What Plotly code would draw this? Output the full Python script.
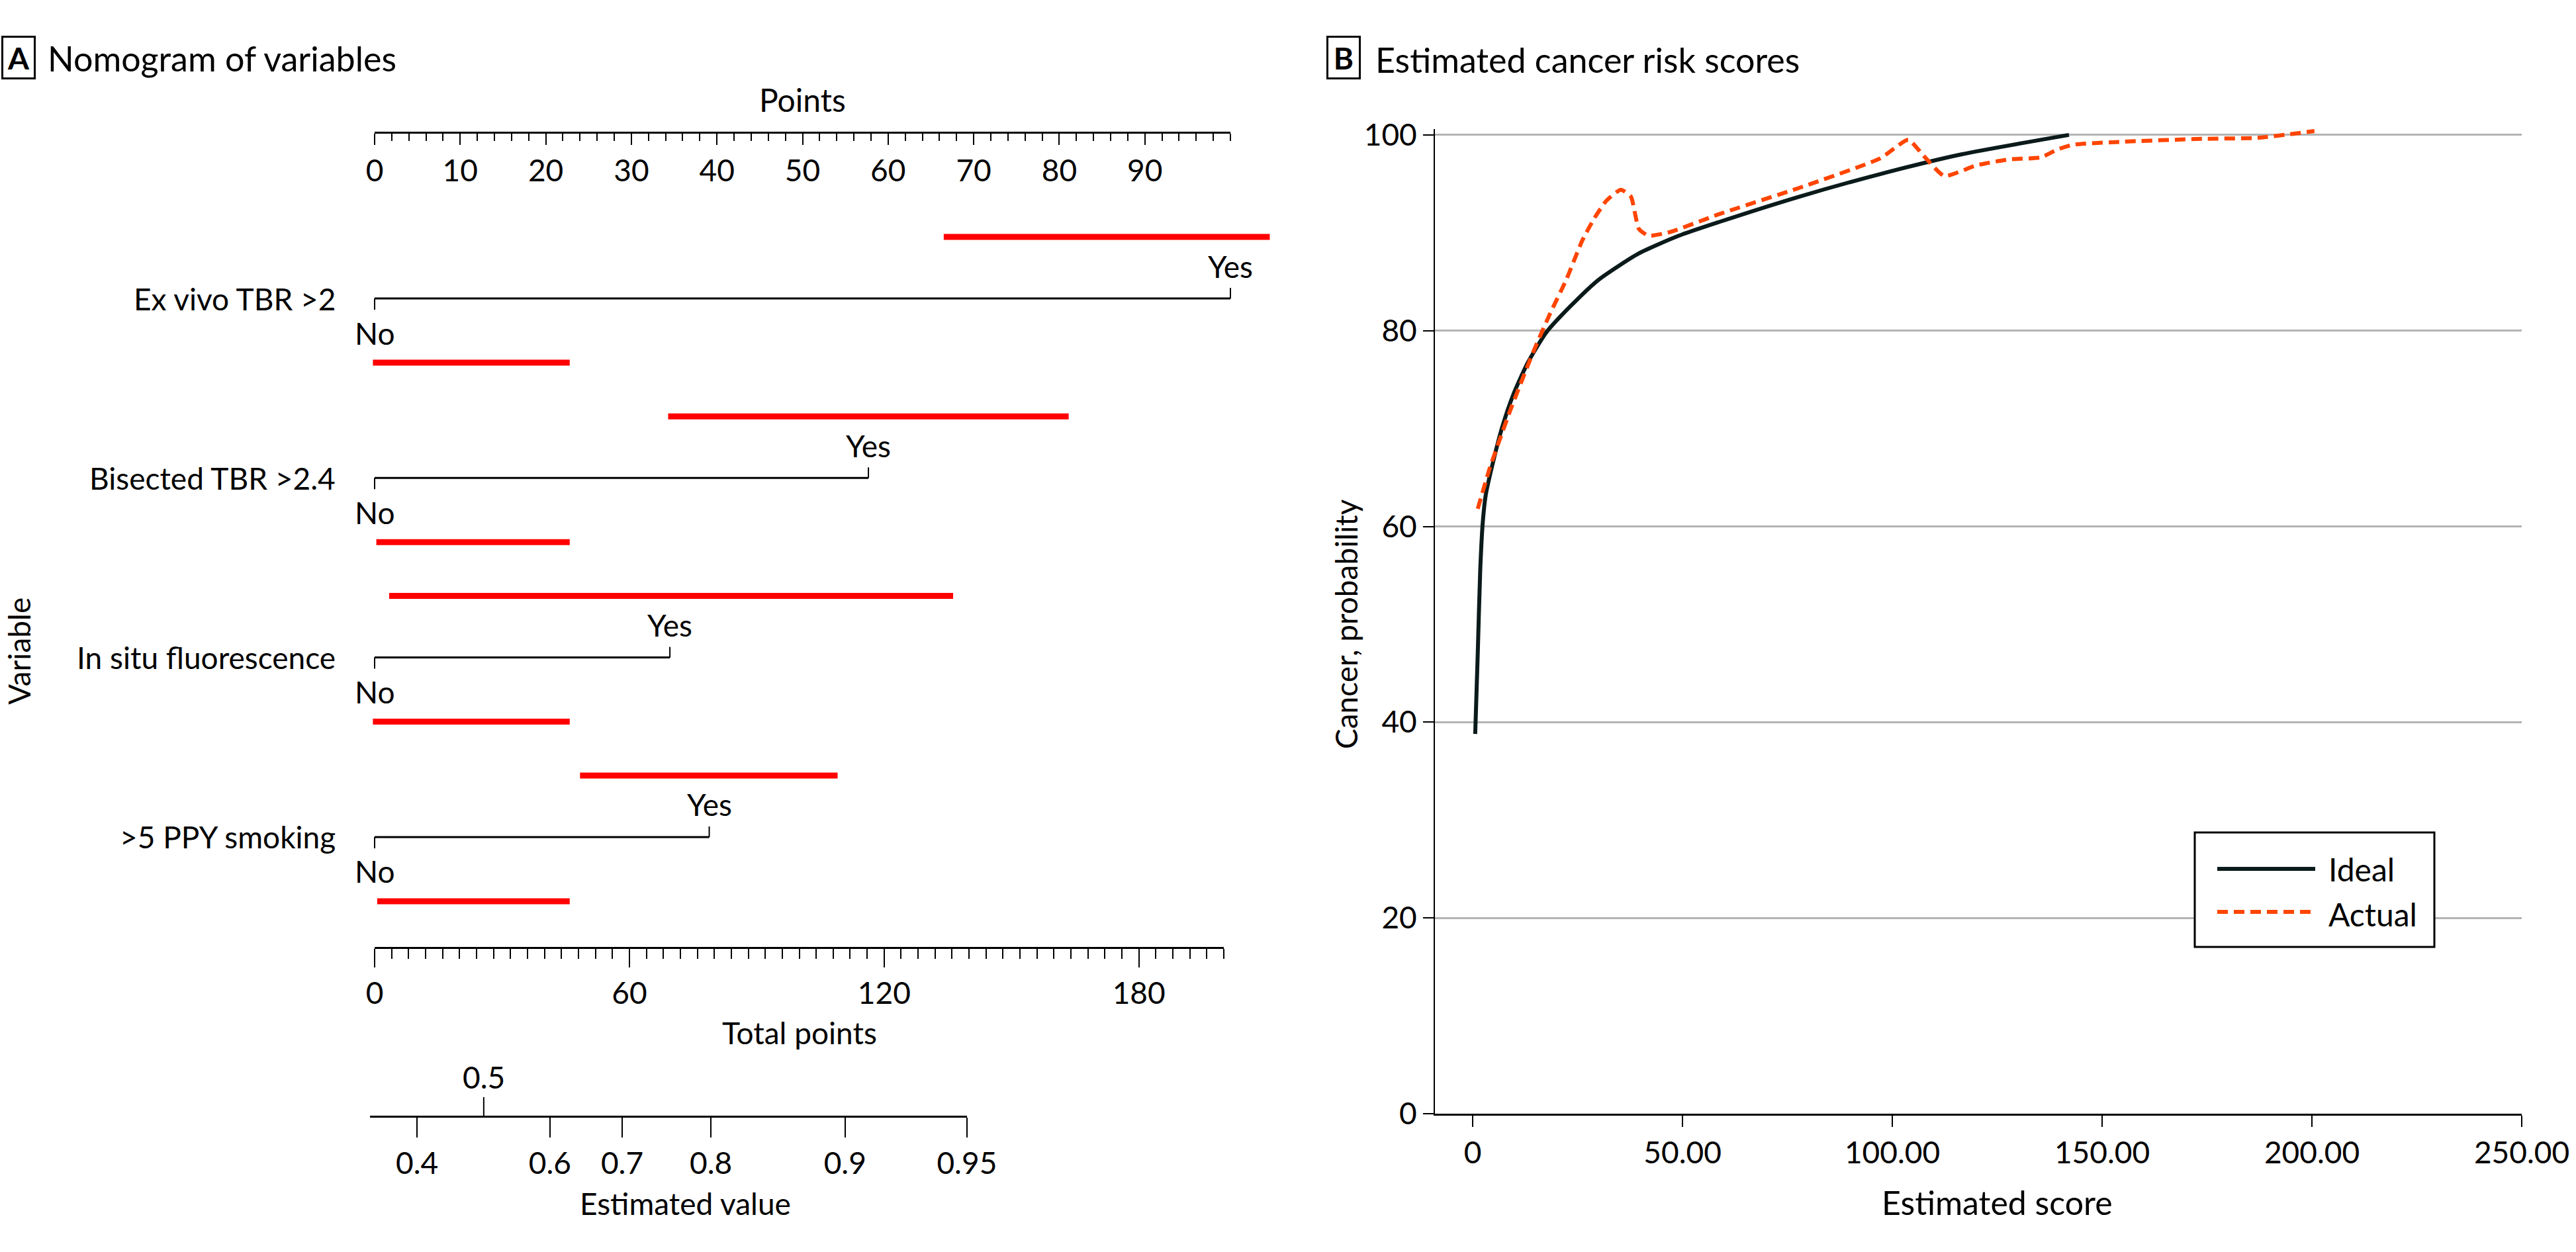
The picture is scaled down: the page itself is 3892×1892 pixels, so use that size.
import plotly.graph_objects as go

# ---------------- DATA ----------------
variables = ["Ex vivo TBR >2", "Bisected TBR >2.4", "In situ fluorescence", ">5 PPY smoking"]
yes_points = [100, 57.7, 34.5, 39.1]
yes_bar_lo = [66.5, 34.3, 1.7, 24.0]
yes_bar_hi = [104.6, 81.1, 67.6, 54.1]
no_bar_lo = [-0.2, 0.2, -0.2, 0.3]
no_bar_hi = [22.8, 22.8, 22.8, 22.8]

points_ticks = [0, 10, 20, 30, 40, 50, 60, 70, 80, 90, 100]
points_tick_labels = ["0", "10", "20", "30", "40", "50", "60", "70", "80", "90", ""]
total_ticks = [0, 20, 40, 60, 80, 100, 120, 140, 160, 180, 200]
total_tick_labels = ["0", "", "", "60", "", "", "120", "", "", "180", ""]
est_labels = ["0.4", "0.5", "0.6", "0.7", "0.8", "0.9", "0.95"]
est_positions = [10.0, 25.7, 41.3, 58.3, 79.2, 110.8, 139.5]   # in total points
est_axis_start = -1.1

ideal_x = [0.6, 1.2, 1.8, 2.4, 3.1, 4.7, 7.0, 9.8, 13.1, 17.5, 23.3, 30.0, 39.6, 49.1,
           58.7, 77.9, 97.1, 116.3, 142.1]
ideal_y = [38.8, 47.0, 55.6, 60.4, 63.2, 66.3, 70.1, 73.6, 76.7, 79.8, 82.5, 85.2, 87.9, 89.7,
           91.1, 93.7, 96.0, 98.0, 100.0]
actual_x = [1.2, 4.1, 8.9, 14.6, 18.5, 22.3, 26.1, 29.0, 31.9, 35.3, 37.7, 39.6, 41.9, 47.2,
            58.7, 77.9, 97.1, 103.8, 107.6, 112.4, 120.1, 127.8, 135.4, 139.3, 143.1, 154.6,
            173.8, 187.2, 200.6]
actual_y = [61.8, 66.0, 71.8, 78.0, 81.8, 85.2, 89.2, 91.5, 93.3, 94.4, 93.7, 90.4, 89.7, 90.1,
            91.9, 94.6, 97.6, 99.5, 97.8, 95.8, 96.9, 97.5, 97.7, 98.5, 99.0, 99.3,
            99.6, 99.7, 100.4]
b_x_ticks = [0, 50, 100, 150, 200, 250]
b_x_labels = ["0", "50.00", "100.00", "150.00", "200.00", "250.00"]
b_y_ticks = [0, 20, 40, 60, 80, 100]

# ---------------- LAYOUT CONSTANTS ----------------
W, H = 3892, 1892
FONT = "Lato"
IDEAL_C = "#0b1a1a"
ACTUAL_C = "#ff4500"
RED = "#ff0000"
CLEAR = "rgba(0,0,0,0)"


def px(x):
    return x / W


def py(y):
    return 1 - y / H


A_X0, A_X100 = 566, 1859
PT_PER_PX = 100 / (A_X100 - A_X0)
ROW0_Y, ROW_STEP = 451, 271.3
TOT_X0, TOT_X200 = 566, 1849
TOT_PX = (TOT_X200 - TOT_X0) / 200
YES_TICK, NO_TICK = 16 / ROW_STEP, 17 / ROW_STEP
TOP_BAR, BOT_BAR = -93 / ROW_STEP, 97 / ROW_STEP
YES_LAB, NO_LAB = -49 / ROW_STEP, 52 / ROW_STEP

fig = go.Figure()

# rows: black lines
hx, hy, vx, vy = [], [], [], []
for i, yes in enumerate(yes_points):
    hx += [0, yes, None]
    hy += [i, i, None]
    vx += [0, 0, None, yes, yes, None]
    vy += [i, i + NO_TICK, None, i, i - YES_TICK, None]
fig.add_trace(go.Scatter(x=hx, y=hy, mode="lines", line=dict(color="black", width=3),
                         xaxis="x", yaxis="y", hoverinfo="skip", showlegend=False))
fig.add_trace(go.Scatter(x=vx, y=vy, mode="lines", line=dict(color="black", width=2),
                         xaxis="x", yaxis="y", hoverinfo="skip", showlegend=False))

# red bars
rx, ry = [], []
for i in range(len(variables)):
    rx += [yes_bar_lo[i], yes_bar_hi[i], None, no_bar_lo[i], no_bar_hi[i], None]
    ry += [i + TOP_BAR, i + TOP_BAR, None, i + BOT_BAR, i + BOT_BAR, None]
fig.add_trace(go.Scatter(x=rx, y=ry, mode="lines", line=dict(color=RED, width=9),
                         xaxis="x", yaxis="y", hoverinfo="skip", showlegend=False))

# dummy traces so the free axes render
for ax, xv in [("x2", [0, 100]), ("x3", [0, 200]), ("x4", [est_axis_start, est_positions[-1]])]:
    fig.add_trace(go.Scatter(x=xv, y=[0, 0], xaxis=ax, yaxis="y", mode="markers",
                             marker=dict(opacity=0), hoverinfo="skip", showlegend=False))

# Panel B
fig.add_trace(go.Scatter(x=ideal_x, y=ideal_y, name="Ideal", mode="lines",
                         line=dict(color=IDEAL_C, width=6, shape="spline", smoothing=0.6),
                         xaxis="x5", yaxis="y5", showlegend=False))
fig.add_trace(go.Scatter(x=actual_x, y=actual_y, name="Actual", mode="lines",
                         line=dict(color=ACTUAL_C, width=6, dash="16px,9px", shape="spline",
                                   smoothing=0.5),
                         xaxis="x5", yaxis="y5", showlegend=False))

tickfont = dict(family=FONT, size=46, color="black")

annotations = []


def ann(text, x, y, xref="paper", yref="paper", xanchor="center", yanchor="middle", size=46,
        **kw):
    d = dict(text=text, x=x, y=y, xref=xref, yref=yref, xanchor=xanchor, yanchor=yanchor,
             showarrow=False, font=dict(family=FONT, size=size, color="black"))
    d.update(kw)
    annotations.append(d)


# titles
ann("<b>A</b>", px(28), py(87), size=46, width=46, height=60, bordercolor="black",
    borderwidth=3, borderpad=0)
ann("Nomogram of variables", px(70), py(88), xanchor="left", size=52)
ann("<b>B</b>", px(2030), py(87), size=46, width=46, height=60, bordercolor="black",
    borderwidth=3, borderpad=0)
ann("Estimated cancer risk scores", px(2076), py(90), xanchor="left", size=52)

# panel A texts
ann("Points", 50, py(150), xref="x2", size=48)
for i, name in enumerate(variables):
    ann(name, 0, i, xref="x", yref="y", xanchor="right", xshift=-57)
    ann("Yes", yes_points[i], i + YES_LAB, xref="x", yref="y")
    ann("No", 0, i + NO_LAB, xref="x", yref="y")
ann("Variable", px(28), py(984), textangle=-90)
ann("Total points", 100, py(1560), xref="x3")
ann(est_labels[1], est_positions[1], py(1627), xref="x4")
ann("Estimated value", px(1035), py(1818))

# panel B texts
ann("Cancer, probability", px(2033), py(943), textangle=-90)
ann("Estimated score", 125, py(1817), xref="x5", size=50)
ann("Ideal", px(3516), py(1313), xanchor="left", size=48)
ann("Actual", px(3516), py(1381), xanchor="left", size=48)

shapes = [
    # 0.5 upward tick on the estimated value axis
    dict(type="line", xref="x4", yref="paper", x0=est_positions[1], x1=est_positions[1],
         y0=py(1687), y1=py(1658), line=dict(color="black", width=2)),
    # legend box and samples
    dict(type="rect", xref="paper", yref="paper", x0=px(3316), x1=px(3678), y0=py(1431),
         y1=py(1258), line=dict(color="black", width=3), fillcolor="white", layer="above"),
    dict(type="line", xref="paper", yref="paper", x0=px(3350), x1=px(3498), y0=py(1313),
         y1=py(1313), line=dict(color=IDEAL_C, width=6)),
    dict(type="line", xref="paper", yref="paper", x0=px(3350), x1=px(3498), y0=py(1378),
         y1=py(1378), line=dict(color=ACTUAL_C, width=6, dash="16px,9px")),
]

est_tick_vals = [p for p, l in zip(est_positions, est_labels) if l != est_labels[1]]
est_tick_text = [l for l in est_labels if l != est_labels[1]]

common_off = dict(showgrid=False, zeroline=False)

fig.update_layout(
    width=W, height=H, margin=dict(l=0, r=0, t=0, b=0, autoexpand=False),
    paper_bgcolor="white", plot_bgcolor=CLEAR,
    font=dict(family=FONT, color="black"),
    showlegend=False,
    xaxis=dict(domain=[0, px(1990)], range=[(0 - A_X0) * PT_PER_PX, (1990 - A_X0) * PT_PER_PX],
               visible=False, **common_off),
    yaxis=dict(domain=[0, 1], range=[(H - ROW0_Y) / ROW_STEP, -ROW0_Y / ROW_STEP],
               visible=False, **common_off),
    xaxis2=dict(domain=[px(A_X0), px(A_X100)], range=[0, 100], anchor="free", position=py(200),
                side="bottom", showline=True, linecolor="black", linewidth=3,
                ticks="outside", ticklen=17, tickwidth=2, tickcolor="black",
                tickmode="array", tickvals=points_ticks, ticktext=points_tick_labels,
                minor=dict(tickmode="array", tickvals=list(range(0, 101, 2)), ticks="outside",
                           ticklen=11, tickwidth=2, tickcolor="black", showgrid=False),
                tickfont=tickfont, **common_off),
    xaxis3=dict(domain=[px(TOT_X0), px(TOT_X200)], range=[0, 200], anchor="free",
                position=py(1432), side="bottom", showline=True, linecolor="black", linewidth=3,
                ticks="outside", ticklen=28, tickwidth=2, tickcolor="black",
                tickmode="array", tickvals=total_ticks, ticktext=total_tick_labels,
                minor=dict(tickmode="array", tickvals=list(range(0, 201, 4)), ticks="outside",
                           ticklen=15, tickwidth=2, tickcolor="black", showgrid=False),
                tickfont=tickfont, **common_off),
    xaxis4=dict(domain=[px(TOT_X0 + est_axis_start * TOT_PX), px(TOT_X0 + est_positions[-1] * TOT_PX)],
                range=[est_axis_start, est_positions[-1]], anchor="free", position=py(1687),
                side="bottom", showline=True, linecolor="black", linewidth=3,
                ticks="outside", ticklen=30, tickwidth=2, tickcolor="black",
                tickmode="array", tickvals=est_tick_vals, ticktext=est_tick_text,
                tickfont=tickfont, **common_off),
    xaxis5=dict(domain=[px(2168), px(3810)], range=[-9, 250], anchor="y5",
                showline=True, linecolor="black", linewidth=3, ticks="outside", ticklen=17,
                tickwidth=2, tickcolor="black", tickmode="array", tickvals=b_x_ticks,
                ticktext=b_x_labels, tickfont=tickfont, **common_off),
    yaxis5=dict(domain=[py(1683), py(195)], range=[0, 100.6], anchor="x5",
                showline=True, linecolor="black", linewidth=2, ticks="outside", ticklen=16,
                tickwidth=2, tickcolor="black", tickmode="array", tickvals=b_y_ticks,
                tickfont=tickfont, showgrid=True, gridcolor="#b3b3b3", gridwidth=3,
                zeroline=False),
    annotations=annotations,
    shapes=shapes,
)

fig.write_html("out.html")
